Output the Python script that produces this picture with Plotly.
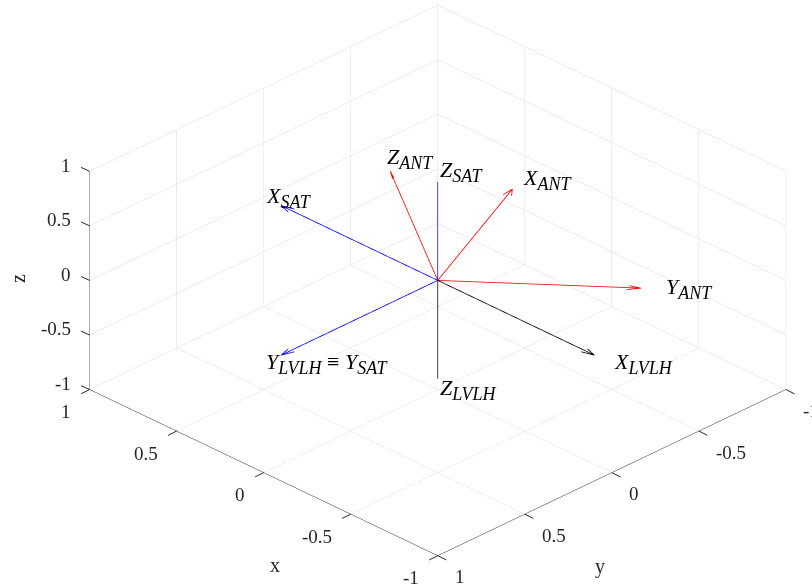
import plotly.graph_objects as go
import numpy as np

# ---- data (unit direction vectors of each frame, axes x, y, z) ----
sat_vectors = [[1.0, 0.0, 0.0], [0.0, 1.0, 0.0], [0.0, 0.0, 1.0]]
sat_names = [("X", "SAT"), None, ("Z", "SAT")]
lvlh_vectors = [[-1.0, 0.0, 0.0], [0.0, 1.0, 0.0], [0.0, 0.0, -1.0]]
lvlh_names = [("X", "LVLH"), ("Y", "LVLH", "Y", "SAT"), ("Z", "LVLH")]
ant_vectors = [[0.425, -0.901, -0.081], [-0.865, -0.433, 0.25], [0.247, 0.057, 0.968]]
ant_names = [("X", "ANT"), ("Y", "ANT"), ("Z", "ANT")]
tick_vals = [-1, -0.5, 0, 0.5, 1]
tick_text = ["-1", "-0.5", "0", "0.5", "1"]

quiver_scale = 0.9
head_alpha = 0.065
head_beta = 0.3

SERIF = "Liberation Serif"
TICK_COLOR = "#262626"

fig = go.Figure()


def add_frame(vectors, color, skip=()):
    xs, ys, zs = [], [], []
    for i, v in enumerate(vectors):
        if i in skip:
            continue
        U, V, W = [quiver_scale * c for c in v]
        eps = 1e-9
        xs += [0, U, None]
        ys += [0, V, None]
        zs += [0, W, None]
        b1 = (U - head_alpha * (U + head_beta * (V + eps)),
              V - head_alpha * (V - head_beta * (U + eps)),
              W - head_alpha * W)
        b2 = (U - head_alpha * (U - head_beta * (V + eps)),
              V - head_alpha * (V + head_beta * (U + eps)),
              W - head_alpha * W)
        xs += [b1[0], U, b2[0], None]
        ys += [b1[1], V, b2[1], None]
        zs += [b1[2], W, b2[2], None]
    fig.add_trace(go.Scatter3d(x=xs, y=ys, z=zs, mode="lines",
                               line=dict(color=color, width=1.6),
                               hoverinfo="skip", showlegend=False))


add_frame(lvlh_vectors, "black", skip=(1,))
add_frame(sat_vectors, "blue")
add_frame(ant_vectors, "red")


def sym(parts):
    out = []
    for j in range(0, len(parts), 2):
        out.append("<i>%s</i><sub><span style=\"font-size:18px\"><i>%s</i></span></sub>"
                   % (parts[j], parts[j + 1]))
    return " ≡ ".join(out)


annotations = []
for vecs, names in ((sat_vectors, sat_names), (lvlh_vectors, lvlh_names), (ant_vectors, ant_names)):
    for v, nm in zip(vecs, names):
        if nm is None:
            continue
        annotations.append(dict(x=v[0], y=v[1], z=v[2], text=sym(nm), showarrow=False,
                                xanchor="left", yanchor="middle",
                                font=dict(family=SERIF, size=22, color="black")))

# tick labels and tick marks (MATLAB layout: x on front-left edge, y on front-right edge, z on left edge)
tick_font = dict(family=SERIF, size=19, color=TICK_COLOR)
tick_mark = dict(text=" ", showarrow=True, arrowhead=0, arrowwidth=1, arrowcolor=TICK_COLOR,
                 standoff=0, startstandoff=0, font=dict(size=1))
for v, t in zip(tick_vals, tick_text):
    annotations.append(dict(x=v, y=1, z=-1, text=t, showarrow=False, xanchor="right",
                            yanchor="middle", xshift=-17, yshift=-22, font=tick_font))
    annotations.append(dict(x=-1, y=v, z=-1, text=t, showarrow=False, xanchor="left",
                            yanchor="middle", xshift=15, yshift=-21, font=tick_font))
    annotations.append(dict(x=1, y=1, z=v, text=t, showarrow=False, xanchor="right",
                            yanchor="middle", xshift=-17, yshift=6, font=tick_font))
    annotations.append(dict(x=v, y=1, z=-1, ax=-10, ay=5, **tick_mark))
    annotations.append(dict(x=-1, y=v, z=-1, ax=10, ay=5, **tick_mark))
    annotations.append(dict(x=1, y=1, z=v, ax=-10, ay=-4.5, **tick_mark))

axis_common = dict(range=[-1, 1], tickvals=tick_vals, ticktext=tick_text,
                   showticklabels=False, title=dict(text=""), ticks="",
                   showbackground=False, gridcolor="#dadada", gridwidth=1,
                   zeroline=False, showline=True, linecolor=TICK_COLOR, linewidth=1,
                   showspikes=False)
title_font = dict(family=SERIF, size=20, color=TICK_COLOR)

s = 1.766 * 561 / 585 * 0.994
k = 1.4
c = dict(x=0.0768, y=0.0768, z=-0.0471)
fig.update_layout(
    width=812, height=585,
    margin=dict(l=0, r=0, t=0, b=0),
    paper_bgcolor="white",
    annotations=[
        dict(x=275 / 812, y=1 - 565 / 585, xref="paper", yref="paper", text="x",
             xanchor="center", yanchor="middle", showarrow=False, font=title_font),
        dict(x=600 / 812, y=1 - 566 / 585, xref="paper", yref="paper", text="y",
             xanchor="center", yanchor="middle", showarrow=False, font=title_font),
        dict(x=18 / 812, y=1 - 279 / 585, xref="paper", yref="paper", text="z",
             xanchor="center", yanchor="middle", textangle=-90, showarrow=False,
             font=title_font),
    ],
    scene=dict(
        domain=dict(x=[0, 1], y=[0, 1]),
        xaxis=axis_common,
        yaxis=axis_common,
        zaxis=axis_common,
        aspectmode="manual",
        aspectratio=dict(x=s, y=s, z=0.507 * s * 0.995),
        camera=dict(eye=dict(x=c["x"] - k, y=c["y"] + k, z=c["z"] + k * 0.768),
                    center=c,
                    up=dict(x=0, y=0, z=1),
                    projection=dict(type="orthographic")),
        annotations=annotations,
    ),
)

fig.write_html("out.html")
